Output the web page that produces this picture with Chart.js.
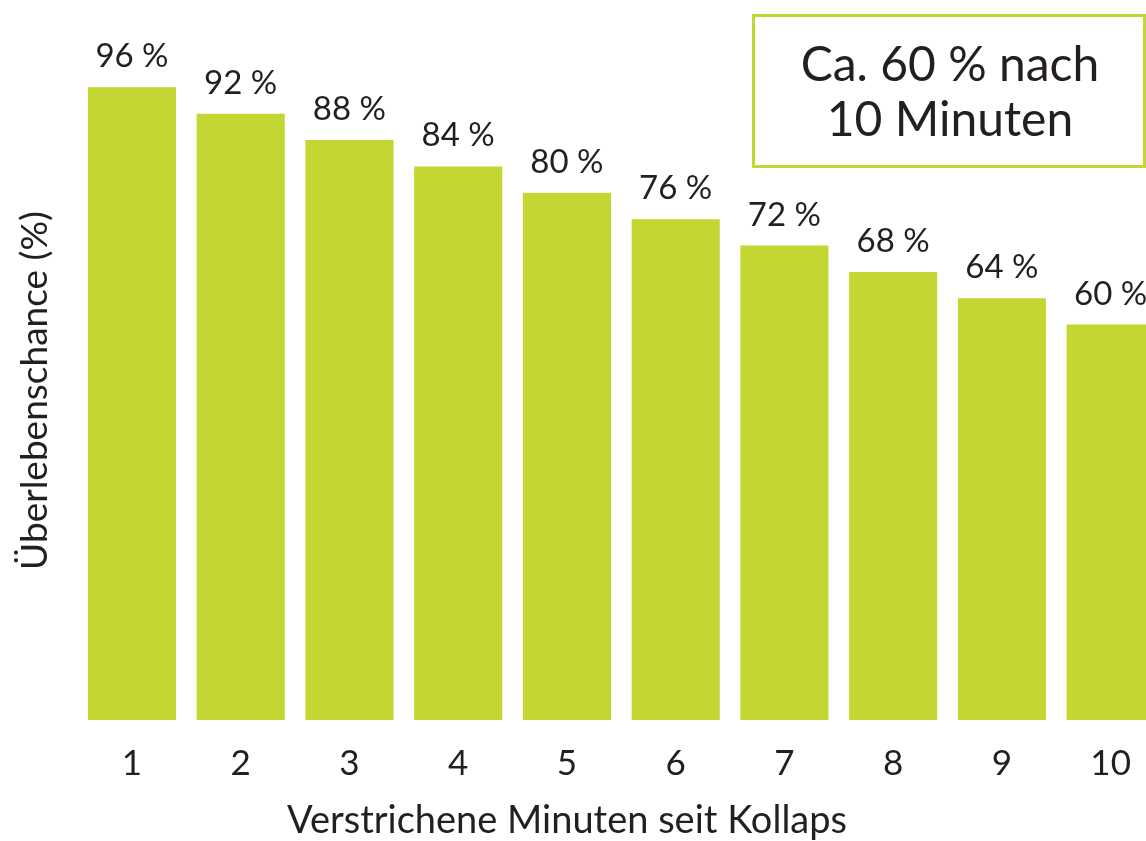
<!DOCTYPE html>
<html>
<head>
<meta charset="utf-8">
<script src="https://cdn.jsdelivr.net/npm/chart.js@4"></script>
<style>
  html, body { margin: 0; padding: 0; background: #fff; overflow: hidden; }
  #wrap { width: 1180px; height: 841px; }
</style>
</head>
<body>
<div id="wrap"><canvas id="chart" width="1180" height="841"></canvas></div>
<script>
// chart data
const minutes = ["1", "2", "3", "4", "5", "6", "7", "8", "9", "10"];
const survival = [96, 92, 88, 84, 80, 76, 72, 68, 64, 60];
const boxLines = ["Ca. 60 % nach", "10 Minuten"];
const xTitle = "Verstrichene Minuten seit Kollaps";

const barColor = "#c4d632";
const textColor = "#231f20";
const fontName = "Lato";

// labels above bars, x title and info box
const extras = {
    id: "extras",
    afterDatasetsDraw(chart) {
        const ctx = chart.ctx;
        const meta = chart.getDatasetMeta(0);
        ctx.save();
        ctx.fillStyle = textColor;
        ctx.font = "33px " + fontName;
        ctx.textAlign = "center";
        ctx.textBaseline = "alphabetic";
        meta.data.forEach((bar, i) => {
            ctx.fillText(survival[i] + " %", bar.x, bar.y - 20);
        });

        // x axis title, centred on the visible page
        ctx.font = "38px " + fontName;
        ctx.textBaseline = "middle";
        ctx.fillText(xTitle, 567, 821);

        // box top right
        ctx.strokeStyle = barColor;
        ctx.lineWidth = 3;
        ctx.strokeRect(753.5, 15.5, 391, 151);
        ctx.font = "48px " + fontName;
        ctx.fillText(boxLines[0], 950, 66);
        ctx.fillText(boxLines[1], 950, 121);
        ctx.restore();
    }
};

new Chart(document.getElementById("chart"), {
    type: "bar",
    data: {
        labels: minutes,
        datasets: [{
            data: survival,
            backgroundColor: barColor,
            barPercentage: 0.81,
            categoryPercentage: 1.0,
        }],
    },
    options: {
        responsive: false,
        animation: false,
        layout: { padding: { top: 61, right: 15, left: 0, bottom: 0 } },
        plugins: { legend: { display: false }, tooltip: { enabled: false } },
        scales: {
            x: {
                grid: { display: false, drawTicks: false },
                border: { display: false },
                ticks: { color: textColor, font: { family: fontName, size: 35 }, padding: 23 },
                afterFit(axis) { axis.height = 121; },
            },
            y: {
                min: 0,
                max: 100,
                grid: { display: false, drawTicks: false },
                border: { display: false },
                ticks: { display: false },
                title: {
                    display: true,
                    text: "Überlebenschance (%)",
                    color: textColor,
                    font: { family: fontName, size: 37, lineHeight: 1.0 },
                    padding: { top: 17, bottom: 0 },
                },
                afterFit(axis) { axis.width = 77.6; },
            },
        },
    },
    plugins: [extras],
});
</script>
</body>
</html>
